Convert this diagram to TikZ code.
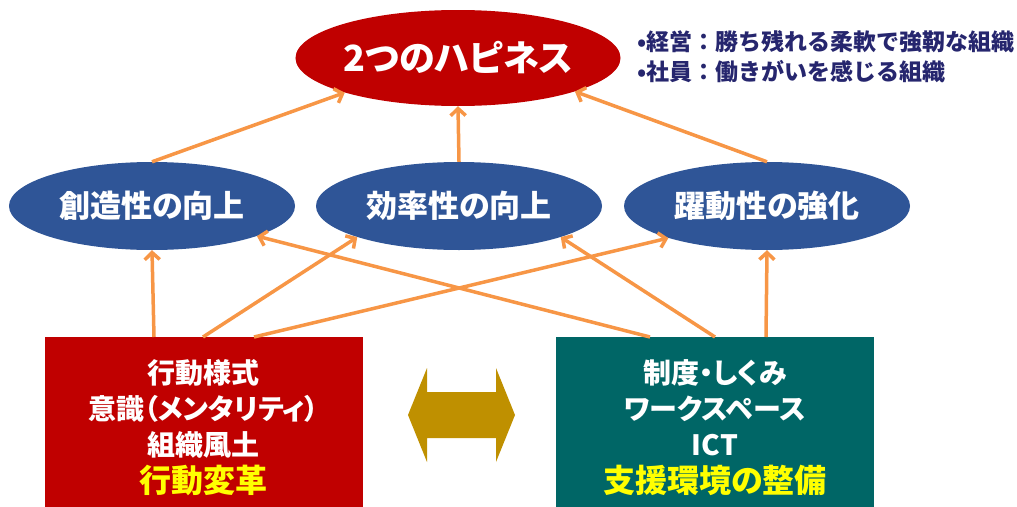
\documentclass[tikz,border=0pt]{standalone}
\usepackage{fontspec}
\setmainfont{Noto Sans CJK JP}[RawFeature=+palt]
\newfontfamily\jpfull{Noto Sans CJK JP}
\usetikzlibrary{arrows.meta,shapes.geometric}
\definecolor{topred}{RGB}{192,0,0}
\definecolor{ellblue}{RGB}{47,85,151}
\definecolor{boxgreen}{RGB}{0,102,102}
\definecolor{arrorange}{RGB}{247,150,70}
\definecolor{goldarrow}{RGB}{191,144,0}
\definecolor{navytext}{RGB}{38,38,110}
\definecolor{hlyellow}{RGB}{255,255,0}
\begin{document}
\begin{tikzpicture}[x=1pt,y=-1pt,
  topell/.style={ellipse, fill=topred, text=white, minimum width=320pt, minimum height=96pt, inner sep=0pt, font=\bfseries\fontsize{36}{40}\selectfont},
  ell/.style={ellipse, fill=ellblue, text=white, minimum width=286pt, minimum height=88pt, inner sep=0pt, font=\bfseries\fontsize{31}{36}\selectfont},
  bigbox/.style={rectangle, minimum width=318pt, minimum height=170pt, inner sep=0pt},
  boxtext/.style={text=white, align=center, inner sep=0pt, font=\bfseries\fontsize{28}{36}\selectfont},
  conn/.style={draw=arrorange, line width=3.5pt, -{Straight Barb[length=7pt,width=15pt]}},
  note/.style={anchor=west, text=navytext, inner sep=0pt, font=\jpfull\bfseries\fontsize{23}{26}\selectfont}
]
\useasboundingbox (0,0) rectangle (1017,506);

% nodes
\node[topell] (top) at (458,58) {2つのハピネス};
\node[ell] (c1) at (152,206) {創造性の向上};
\node[ell] (c2) at (459,206) {効率性の向上};
\node[ell] (c3) at (767,206) {躍動性の強化};
\node[bigbox, fill=topred] (boxL) at (203.5,422) {};
\node[bigbox, fill=boxgreen] (boxR) at (715,422) {};

\node[boxtext] (tL) at (203.5,428) {行動様式\\意識（メンタリティ）\\組織風土\\[1pt]{\color{hlyellow}\fontsize{32}{36}\selectfont 行動変革}};
\node[boxtext] (tR) at (715,428) {制度・しくみ\\ワークスペース\\ICT\\[1pt]{\color{hlyellow}\fontsize{32}{36}\selectfont 支援環境の整備}};

\node[note] (n1) at (637,42) {•経営：勝ち残れる柔軟で強靭な組織};
\node[note] (n2) at (637,72) {•社員：働きがいを感じる組織};

% double arrow
\fill[goldarrow] (408,415) -- (427,368) -- (427,392) -- (496,392) -- (496,368) -- (515,415)
  -- (496,462) -- (496,438) -- (427,438) -- (427,462) -- cycle;

% start points on the boxes
\coordinate (l1) at (154,337);
\coordinate (l2) at (203,337);
\coordinate (l3) at (254,337);
\coordinate (r1) at (650,337);
\coordinate (r2) at (715,337);
\coordinate (r3) at (766,337);

% connectors
\draw[conn] (l1) -- (c1.south);
\draw[conn] (l2) -- (c2.197);
\draw[conn] (l3) -- (c3.198);
\draw[conn] (r1) -- (c1.344);
\draw[conn] (r2) -- (c2.343);
\draw[conn] (r3) -- (c3.south);

\draw[conn] (c1.north) -- (top.197);
\draw[conn] (c2.north) -- (top.south);
\draw[conn] (c3.north) -- (top.344);
\end{tikzpicture}
\end{document}
